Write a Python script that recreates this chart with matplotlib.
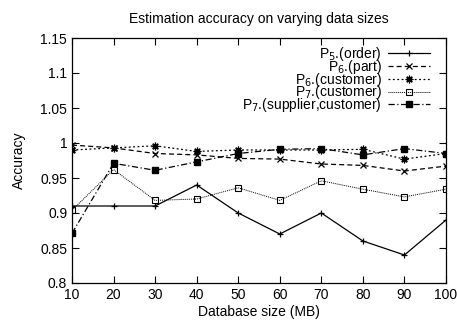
import matplotlib
matplotlib.use("Agg")
import matplotlib.pyplot as plt

plt.rcParams['font.family'] = ['Liberation Sans', 'DejaVu Sans']
plt.rcParams['font.size'] = 10

sizes = [10, 20, 30, 40, 50, 60, 70, 80, 90, 100]

p5_order = [0.91, 0.91, 0.91, 0.94, 0.90, 0.87, 0.90, 0.86, 0.84, 0.89]
p6_part = [0.997, 0.993, 0.985, 0.983, 0.978, 0.977, 0.970, 0.968, 0.960, 0.967]
p6_customer = [0.990, 0.993, 0.996, 0.988, 0.990, 0.990, 0.990, 0.991, 0.977, 0.985]
p7_customer = [0.904, 0.962, 0.918, 0.920, 0.936, 0.918, 0.946, 0.934, 0.923, 0.934]
p7_supp_cust = [0.871, 0.971, 0.961, 0.973, 0.985, 0.991, 0.992, 0.983, 0.992, 0.985]

labels = [r"P$_{5}$.(order)", r"P$_{6}$.(part)", r"P$_{6}$.(customer)",
          r"P$_{7}$.(customer)", r"P$_{7}$.(supplier,customer)"]

fig = plt.figure(figsize=(4.57, 3.24), dpi=100)
ax = fig.add_axes([72/457, 41/324, 374/457, 245/324])

ax.plot(sizes, p5_order, color='black', lw=0.9, ls='-', marker='+', ms=5, mew=0.9, label=labels[0])
ax.plot(sizes, p6_part, color='black', lw=0.9, ls=(0, (4, 2.5)), marker='x', ms=4.5, mew=0.9, label=labels[1])
ax.plot(sizes, p6_customer, color='black', lw=0.9, ls=(0, (1.5, 2)), marker=(8, 2, 0), ms=5.5, mew=0.9, label=labels[2])
ax.plot(sizes, p7_customer, color='black', lw=0.7, ls=(0, (1, 1)), marker='s', ms=5, mew=0.8,
        mfc='none', label=labels[3])
ax.plot(sizes, p7_supp_cust, color='black', lw=0.9, ls=(0, (5, 2, 1, 2)), marker='s', ms=5, label=labels[4])

ax.set_xlim(10, 100)
ax.set_ylim(0.8, 1.15)
ax.set_xticks(sizes)
ax.set_yticks([0.8, 0.85, 0.9, 0.95, 1.0, 1.05, 1.1, 1.15])
ax.set_yticklabels(["0.8", "0.85", "0.9", "0.95", "1", "1.05", "1.1", "1.15"])
ax.tick_params(direction='in', top=True, right=True, length=5, width=0.8, labelsize=10)
for s in ax.spines.values():
    s.set_linewidth(0.9)

ax.set_xlabel("Database size (MB)", fontsize=10, labelpad=2)
ax.set_ylabel("Accuracy", fontsize=10, labelpad=10)
ax.set_title("Estimation accuracy on varying data sizes", fontsize=10, pad=11)

leg = ax.legend(loc='upper right', bbox_to_anchor=(0.972, 0.995), frameon=False, markerfirst=False,
                fontsize=10, handlelength=3.0, labelspacing=-0.37, handletextpad=0.45, borderaxespad=0)
# right-align the labels like gnuplot does
for vp in leg._legend_box._children[-1]._children:
    vp.align = "right"

plt.savefig("out.png", dpi=100)
